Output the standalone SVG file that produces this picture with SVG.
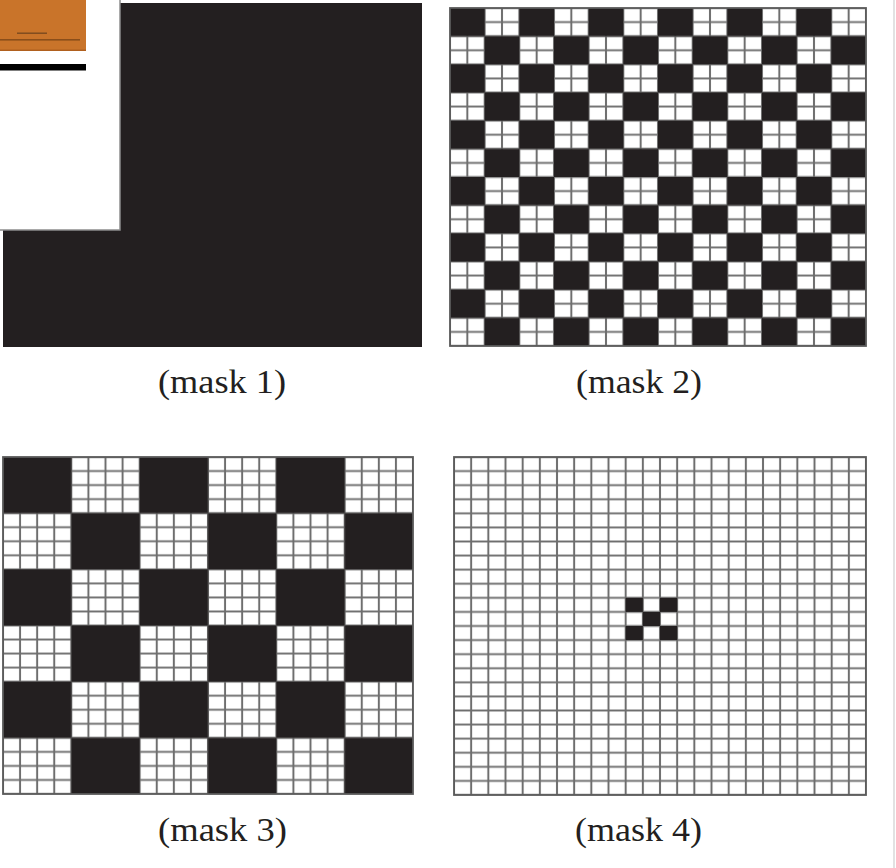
<svg xmlns="http://www.w3.org/2000/svg" width="896" height="868" viewBox="0 0 896 868">
<style>
.lbl{font-family:"Liberation Serif","Times New Roman",serif;font-size:33px;fill:#231f20}
.gl{stroke:#6e6e6e;stroke-width:2;fill:none}
.blk{fill:#231f20}
.frame{fill:none;stroke:#5a5a5a;stroke-width:1.8}
</style>
<defs>
<pattern id="g2" patternUnits="userSpaceOnUse" x="441.333" y="0.958" width="17.333" height="14.083">
<path class="gl" d="M8.667,0V14.083M0,7.042H17.333"/>
</pattern>
<pattern id="b2" patternUnits="userSpaceOnUse" x="450" y="8" width="69.333" height="56.333">
<rect class="blk" x="0" y="0" width="34.667" height="28.167"/>
<rect class="blk" x="34.667" y="28.167" width="34.667" height="28.167"/>
</pattern>
<pattern id="g3" patternUnits="userSpaceOnUse" x="-5.542" y="449.979" width="17.083" height="14.042">
<path class="gl" d="M8.542,0V14.042M0,7.021H17.083"/>
</pattern>
<pattern id="b3" patternUnits="userSpaceOnUse" x="3" y="457" width="136.667" height="112.333">
<rect class="blk" x="0" y="0" width="68.333" height="56.167"/>
<rect class="blk" x="68.333" y="56.167" width="68.333" height="56.167"/>
</pattern>
<pattern id="g4" patternUnits="userSpaceOnUse" x="445.417" y="449.958" width="17.167" height="14.083">
<path class="gl" d="M8.583,0V14.083M0,7.042H17.167"/>
</pattern>
</defs>
<rect width="896" height="868" fill="#fff"/>
<line x1="894" y1="0" x2="894" y2="868" stroke="#d8d8d8" stroke-width="1.5"/>

<g id="mask1">
<rect class="blk" x="3" y="3" width="419" height="344"/>
<rect x="-2" y="-2" width="122" height="232" fill="#fff" stroke="#8c8c8c" stroke-width="1.5"/>
<rect x="0" y="0" width="86" height="51" fill="#c9742a"/>
<rect x="0" y="49.5" width="86" height="1.5" fill="#b0601e"/>
<rect x="0" y="39" width="80" height="1.6" fill="#8a4e1a"/>
<rect x="17" y="32.5" width="30" height="1.4" fill="#7a4a1e"/>
<rect x="0" y="64" width="86" height="6.5" fill="#000"/>
<text class="lbl" x="158" y="393" textLength="128" lengthAdjust="spacingAndGlyphs">(mask 1)</text>
</g>

<g id="mask2">
<rect x="450" y="8" width="416" height="338" fill="#fff"/>
<rect x="450" y="8" width="416" height="338" fill="url(#g2)"/>
<rect x="450" y="8" width="416" height="338" fill="url(#b2)"/>
<rect class="frame" x="450" y="8" width="416" height="338"/>
<text class="lbl" x="576" y="393" textLength="126" lengthAdjust="spacingAndGlyphs">(mask 2)</text>
</g>

<g id="mask3">
<rect x="3" y="457" width="410" height="337" fill="#fff"/>
<rect x="3" y="457" width="410" height="337" fill="url(#g3)"/>
<rect x="3" y="457" width="410" height="337" fill="url(#b3)"/>
<rect class="frame" x="3" y="457" width="410" height="337"/>
<text class="lbl" x="158" y="841" textLength="129" lengthAdjust="spacingAndGlyphs">(mask 3)</text>
</g>

<g id="mask4">
<rect x="454" y="457" width="412" height="338" fill="#fff"/>
<rect x="454" y="457" width="412" height="338" fill="url(#g4)"/>
<rect class="frame" x="454" y="457" width="412" height="338"/>
<g class="blk">
<rect x="625.67" y="597.83" width="17.17" height="14.08"/>
<rect x="660" y="597.83" width="17.17" height="14.08"/>
<rect x="642.83" y="611.92" width="17.17" height="14.08"/>
<rect x="625.67" y="626" width="17.17" height="14.08"/>
<rect x="660" y="626" width="17.17" height="14.08"/>
</g>
<text class="lbl" x="575" y="841" textLength="127" lengthAdjust="spacingAndGlyphs">(mask 4)</text>
</g>
</svg>
